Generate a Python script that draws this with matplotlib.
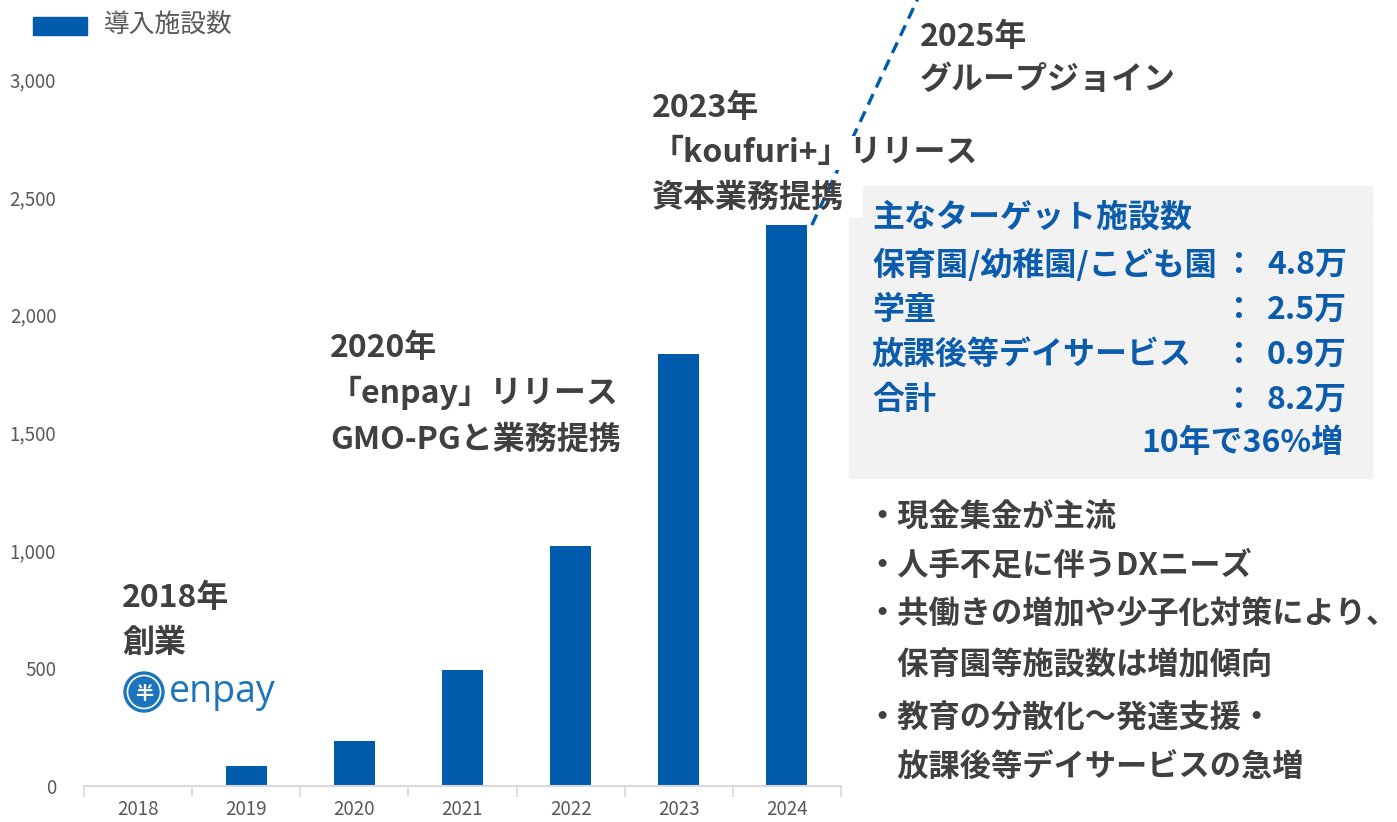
import matplotlib
matplotlib.use('Agg')
import matplotlib.pyplot as plt
from matplotlib.patches import Rectangle, Circle
import numpy as np

plt.rcParams['font.family'] = ['Noto Sans CJK JP', 'DejaVu Sans']

# データ
years = ['2018', '2019', '2020', '2021', '2022', '2023', '2024']
counts = [0, 85, 192, 492, 1018, 1833, 2380]
series_name = '導入施設数'

W, H = 1397, 822
BLUE = '#005BAC'
DARK = '#404040'
GREY = '#595959'
TBLUE = '#0B5CAD'
FS = 23


# ピクセル座標 -> インチ (dpi=100)
def P(x, y):
    return x / 100, (H - y) / 100


fig = plt.figure(figsize=(W / 100, H / 100), dpi=100)
ax = fig.add_axes([84 / W, 1 - 786 / H, (841 - 84) / W, (786 - 79) / H])

x = np.arange(len(years))
ax.bar(x, counts, width=0.38, color=BLUE, zorder=2)

ax.set_xlim(-0.5, len(years) - 0.5)
ax.set_ylim(0, 3000)
ax.set_yticks([0, 500, 1000, 1500, 2000, 2500, 3000])
ax.set_yticklabels(['0', '500', '1,000', '1,500', '2,000', '2,500', '3,000'])
ax.set_xticks(x)
ax.set_xticklabels(years)
ax.set_xticks(np.arange(len(years) + 1) - 0.5, minor=True)
ax.tick_params(axis='x', which='major', length=0, pad=9, labelsize=13.5, labelcolor=GREY)
ax.tick_params(axis='x', which='minor', length=8, width=1.2, color='#D9D9D9')
ax.tick_params(axis='y', length=0, pad=20, labelsize=13.5, labelcolor=GREY)
for s in ['top', 'right', 'left']:
    ax.spines[s].set_visible(False)
ax.spines['bottom'].set_color('#D9D9D9')
ax.spines['bottom'].set_linewidth(1.5)

# 凡例
T = fig.dpi_scale_trans
fig.patches.append(Rectangle(P(33, 35), 0.54, 0.18, transform=T, color=BLUE))
fig.text(*P(104, 26), series_name, transform=T, fontsize=18.5, color=GREY, va='center')

# 点線 (2024 -> 2025)
ax.plot([6.23, 7.25], [2380, 3380], ls=(0, (3.5, 2.2)), lw=2.4, color=BLUE,
        clip_on=False, zorder=1)


def lines(x0, ys, texts, color=DARK, size=FS, bg=None):
    for yy, t in zip(ys, texts):
        kw = {}
        if bg is not None and t in bg:
            kw['bbox'] = dict(facecolor='white', edgecolor='none', pad=1)
        fig.text(*P(x0, yy), t, transform=T, fontsize=size, color=color,
                 fontweight='bold', va='center', **kw)


lines(122, [598, 643], ['2018年', '創業'])
lines(330, [348, 393, 440], ['2020年', '「enpay」リリース', 'GMO-PGと業務提携'])
lines(652, [108, 153, 198], ['2023年', '「koufuri+」リリース', '資本業務提携'],
      bg=['「koufuri+」リリース'])
lines(920, [37, 80], ['2025年', 'グループジョイン'])

# ロゴ
fig.patches.append(Circle(P(144, 692), 0.20, transform=T, color='#1C75BC'))
fig.patches.append(Circle(P(144, 692), 0.165, transform=T, fill=False,
                          edgecolor='white', lw=1.2))
fig.text(*P(144, 693), '半', transform=T, fontsize=13, color='white',
         fontweight='bold', ha='center', va='center')
fig.text(*P(169, 692), 'enpay', transform=T, fontsize=27, color='#1C75BC',
         family='Open Sans', va='center')

# ターゲット施設数ボックス
fig.patches.append(Rectangle(P(849, 478), (1372 - 849) / 100, (478 - 218) / 100,
                             transform=T, color='#F2F2F2', zorder=0))
fig.patches.append(Rectangle(P(863, 219), (1372 - 863) / 100, (219 - 186) / 100,
                             transform=T, color='#F2F2F2', zorder=0))

box_labels = ['保育園/幼稚園/こども園', '学童', '放課後等デイサービス', '合計']
box_values = ['4.8万', '2.5万', '0.9万', '8.2万']
box_ys = [265, 310, 355, 400]

fig.text(*P(872, 218), '主なターゲット施設数', transform=T, fontsize=FS,
         color=TBLUE, fontweight='bold', va='center')
for lab, val, yy in zip(box_labels, box_values, box_ys):
    fig.text(*P(872, yy), lab, transform=T, fontsize=FS, color=TBLUE,
             fontweight='bold', va='center')
    fig.text(*P(1238, yy), '：', transform=T, fontsize=FS, color=TBLUE,
             fontweight='bold', va='center', ha='center')
    fig.text(*P(1347, yy), val, transform=T, fontsize=FS, color=TBLUE,
             fontweight='bold', va='center', ha='right')
fig.text(*P(1344, 443), '10年で36%増', transform=T, fontsize=FS, color=TBLUE,
         fontweight='bold', va='center', ha='right')

# 箇条書き
bullets = ['・現金集金が主流', '・人手不足に伴うDXニーズ', '・共働きの増加や少子化対策により、',
           '\u3000保育園等施設数は増加傾向', '・教育の分散化～発達支援・',
           '\u3000放課後等デイサービスの急増']
lines(866, [518, 566, 614, 665, 719, 768], bullets, size=22.5)

fig.savefig('out.png', dpi=100)
